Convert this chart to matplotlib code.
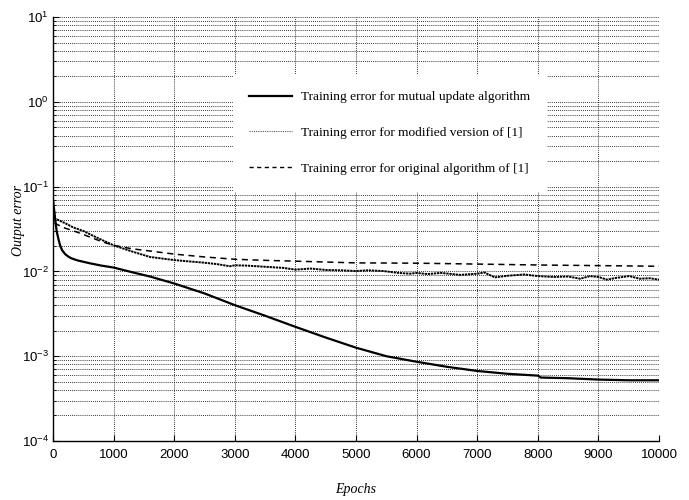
import matplotlib
matplotlib.use("Agg")
import matplotlib.pyplot as plt
from matplotlib.ticker import FixedLocator, FixedFormatter, LogLocator, NullFormatter

# ---- data ----
epochs_mutual = [0, 30, 60, 90, 120, 150, 200, 250, 300, 400, 600, 800, 1000, 1300, 1600,
                 2000, 2500, 3000, 3500, 4000, 4500, 5000, 5500, 6000, 6500, 7000, 7500,
                 8000, 8050, 8500, 9000, 9500, 10000]
err_mutual = [0.07, 0.045, 0.030, 0.024, 0.020, 0.0178, 0.0160, 0.0150, 0.0143, 0.0135,
              0.0125, 0.0117, 0.0111, 0.0098, 0.0087, 0.0072, 0.0055, 0.0040, 0.0030,
              0.00222, 0.00166, 0.00126, 0.00100, 0.00086, 0.00075, 0.00067, 0.00062,
              0.00059, 0.00056, 0.00055, 0.00053, 0.00052, 0.00052]

epochs_modified = [0, 30, 100, 200, 335, 500, 700, 1000, 1300, 1600,
                   2000, 2250, 2480, 2700, 2920, 3000, 3200, 3530, 3800, 4000,
                   4250, 4500, 4750, 5000, 5200, 5450, 5700, 5890, 6000, 6180,
                   6400, 6720, 7000, 7120, 7290, 7510, 7780, 8000, 8260, 8500,
                   8700, 8860, 9000, 9140, 9300, 9510, 9680, 9850, 10000]
err_modified = [0.06, 0.042, 0.040, 0.037, 0.033, 0.030, 0.0255, 0.0203, 0.0172, 0.0148,
                0.0136, 0.0131, 0.0127, 0.0122, 0.0115, 0.0118, 0.0117, 0.0113, 0.0110, 0.0105,
                0.0108, 0.0104, 0.0103, 0.0101, 0.0103, 0.0101, 0.0096, 0.0094, 0.0096, 0.0093,
                0.0096, 0.0091, 0.0094, 0.0097, 0.0085, 0.0089, 0.0092, 0.0088, 0.0086, 0.0087,
                0.0082, 0.0088, 0.0086, 0.0080, 0.0084, 0.0088, 0.0082, 0.0083, 0.0080]

epochs_original = [0, 30, 165, 400, 610, 800, 1000, 1300, 1600, 2000, 2500, 3000, 3500,
                   4000, 4500, 5000, 6000, 7000, 8000, 9000, 10000]
err_original = [0.05, 0.037, 0.033, 0.029, 0.0254, 0.0225, 0.0203, 0.0185, 0.0174, 0.0160,
                0.0148, 0.0139, 0.0135, 0.0132, 0.0129, 0.0126, 0.0125, 0.0122, 0.0119,
                0.0117, 0.0115]

labels = ["Training error for mutual update algorithm",
          "Training error for modified version of [1]",
          "Training error for original algorithm of [1]"]

x_ticks = [0, 1000, 2000, 3000, 4000, 5000, 6000, 7000, 8000, 9000, 10000]
y_ticks = [1e-4, 1e-3, 1e-2, 1e-1, 1e0, 1e1]
y_ticklabels = [r"$\mathregular{10^{-4}}$", r"$\mathregular{10^{-3}}$", r"$\mathregular{10^{-2}}$",
                r"$\mathregular{10^{-1}}$", r"$\mathregular{10^{0}}$", r"$\mathregular{10^{1}}$"]

# ---- figure ----
fig = plt.figure(figsize=(6.89, 5.0), dpi=100)
ax = fig.add_axes([53/689, 1-441/500, 606/689, 424/500])

ax.set_yscale("log")
ax.set_xlim(0, 10000)
ax.set_ylim(1e-4, 1e1)

grid_kw = dict(color="0.1", linestyle=(0, (1, 1.3)), linewidth=0.65)
ax.grid(True, which="major", axis="both", **grid_kw)
ax.grid(True, which="minor", axis="y", **grid_kw)

l1, = ax.plot(epochs_mutual, err_mutual, color="black", lw=1.6, zorder=3)
l2, = ax.plot(epochs_modified, err_modified, color="black", lw=1.4,
              linestyle=(0, (1.2, 0.4)), zorder=3)
l3, = ax.plot(epochs_original, err_original, color="black", lw=1.1,
              linestyle=(0, (4, 3)), zorder=3)

# legend proxies (as they appear in the reference legend)
h1, = ax.plot([], [], color="black", lw=1.6)
h2, = ax.plot([], [], color="0.35", lw=0.8, linestyle=(0, (1, 1)))
h3, = ax.plot([], [], color="black", lw=1.0, linestyle=(0, (3, 2.5)))
leg = ax.legend([h1, h2, h3], labels, loc="upper left",
                bbox_to_anchor=(233/689, 1-75/500), bbox_transform=fig.transFigure,
                prop={"family": "Liberation Serif", "size": 9.6},
                frameon=True, fancybox=False, framealpha=1.0,
                handlelength=3.2, handletextpad=0.7, labelspacing=1.75,
                borderpad=1.2, borderaxespad=0)
leg.get_frame().set_facecolor("white")
leg.get_frame().set_edgecolor("white")
leg.set_zorder(5)

ax.xaxis.set_major_locator(FixedLocator(x_ticks))
ax.set_xticklabels([str(v) for v in x_ticks])
ax.yaxis.set_major_locator(FixedLocator(y_ticks))
ax.yaxis.set_major_formatter(FixedFormatter(y_ticklabels))
ax.yaxis.set_minor_locator(LogLocator(base=10, subs=range(2, 10), numticks=20))
ax.yaxis.set_minor_formatter(NullFormatter())

for lab in ax.get_xticklabels() + ax.get_yticklabels():
    lab.set_family("Liberation Sans")
    lab.set_fontsize(9.5)

ax.tick_params(which="both", direction="in", top=False, right=False)
ax.tick_params(which="major", length=4, width=0.8)
ax.tick_params(axis="x", which="major", pad=6)
ax.tick_params(axis="y", which="major", pad=3)
ax.tick_params(which="minor", length=2, width=0.6)

for s in ["top", "right"]:
    ax.spines[s].set_visible(False)
for s in ["left", "bottom"]:
    ax.spines[s].set_linewidth(1.0)

ax.set_xlabel("Epochs", family="Liberation Serif", style="italic", fontsize=10)
ax.set_ylabel("Output error", family="Liberation Serif", style="italic", fontsize=10)
ax.xaxis.set_label_coords(0.5, -0.1)
ax.yaxis.set_label_coords(-0.047, 0.52)

fig.savefig("out.png", dpi=100)
